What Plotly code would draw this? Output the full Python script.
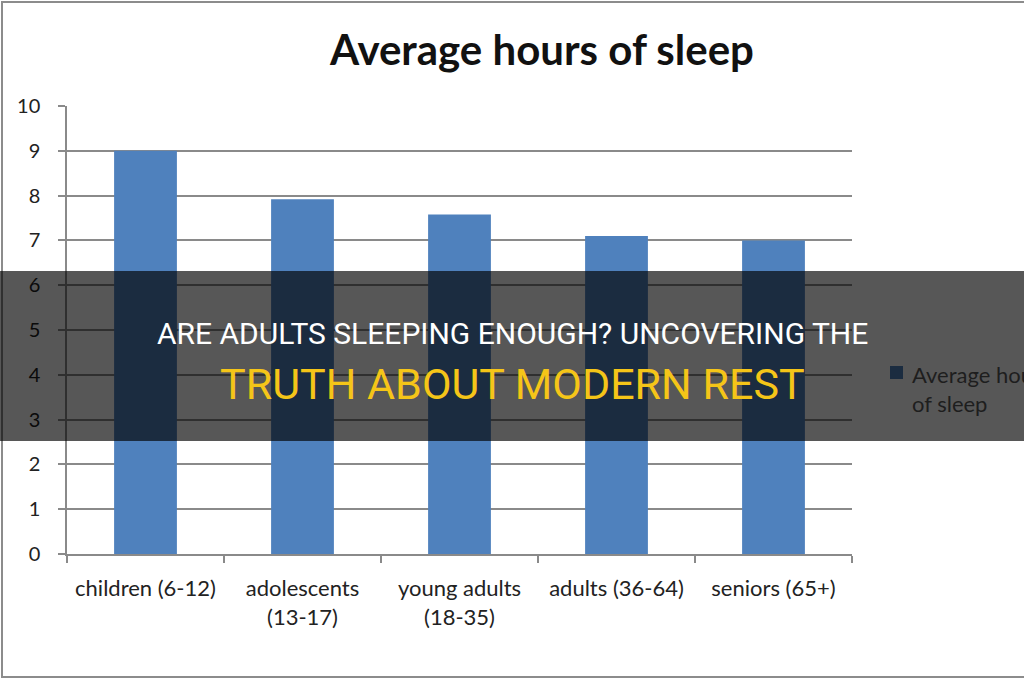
import plotly.graph_objects as go

categories = ["children (6-12)", "adolescents<br>(13-17)", "young adults<br>(18-35)",
              "adults (36-64)", "seniors (65+)"]
hours = [9.0, 7.92, 7.58, 7.1, 7.0]
series_name = "Average hours<br>of sleep"
chart_title = "Average hours of sleep"
headline_1 = "ARE ADULTS SLEEPING ENOUGH? UNCOVERING THE"
headline_2 = "TRUTH ABOUT MODERN REST"
y_ticks = list(range(0, 11))

W, H = 1024, 680
L, R, T, B = 67, 852, 106, 554


def px(x):
    return (x - L) / (R - L)


def py(y):
    return (B - y) / (B - T)


fig = go.Figure()
fig.add_trace(go.Bar(
    x=categories, y=hours, width=0.4,
    marker=dict(color="#4F81BD", line=dict(width=0)),
    showlegend=False, hoverinfo="skip",
))

x_font = dict(family="Lato, Open Sans, sans-serif", size=22, color="#222222")
y_font = dict(family="Lato, Open Sans, sans-serif", size=20, color="#222222")

fig.update_layout(
    width=W, height=H,
    margin=dict(l=L, r=W - R, t=T, b=H - B, pad=0),
    paper_bgcolor="white", plot_bgcolor="white",
    bargap=0.6,
    title=dict(text="<b>" + chart_title + "</b>", x=px(542), xref="paper", xanchor="center",
               y=1 - 50 / H, yanchor="middle",
               font=dict(family="Lato, Open Sans, sans-serif", size=42, color="#111111")),
    xaxis=dict(
        showgrid=False, showline=True, linecolor="#8a8a8a", linewidth=1.5,
        ticks="outside", tickson="boundaries", ticklen=7, tickcolor="#8a8a8a", tickwidth=1.5,
        tickfont=x_font, ticklabelstandoff=14, fixedrange=True,
    ),
    yaxis=dict(
        range=[0, 10], tickvals=y_ticks, showgrid=True, gridcolor="#8a8a8a", gridwidth=1.5,
        showline=True, linecolor="#8a8a8a", linewidth=1.5, zeroline=False,
        ticks="outside", ticklen=7, tickcolor="#8a8a8a", tickwidth=1.5,
        tickfont=y_font, ticklabelstandoff=14, fixedrange=True,
    ),
    shapes=[
        # chart frame
        dict(type="rect", xref="paper", yref="paper",
             x0=px(2), x1=px(1030), y0=py(677), y1=py(2),
             line=dict(color="#8c8c8c", width=2), fillcolor="rgba(0,0,0,0)", layer="below"),
        # legend marker
        dict(type="rect", xref="paper", yref="paper",
             x0=px(890), x1=px(903), y0=py(379), y1=py(366),
             line=dict(width=0), fillcolor="#4F81BD", layer="above"),
        # dark overlay band
        dict(type="rect", xref="paper", yref="paper",
             x0=px(-5), x1=px(1030), y0=py(441), y1=py(271),
             line=dict(width=0), fillcolor="rgba(0,0,0,0.66)", layer="above"),
    ],
    annotations=[
        dict(text=series_name, xref="paper", yref="paper", x=px(910), y=py(389),
             xanchor="left", yanchor="middle", align="left", showarrow=False,
             font=dict(family="Lato, Open Sans, sans-serif", size=22, color="#1e1e1e")),
        dict(text=headline_1, xref="paper", yref="paper", x=px(512), y=py(333),
             xanchor="center", yanchor="middle", showarrow=False,
             font=dict(family="Roboto, sans-serif", size=30, color="white")),
        dict(text=headline_2, xref="paper", yref="paper", x=px(512), y=py(384),
             xanchor="center", yanchor="middle", showarrow=False,
             font=dict(family="Roboto, sans-serif", size=43, color="#F5C518")),
    ],
)

fig.write_html("out.html", config={"displayModeBar": False})
